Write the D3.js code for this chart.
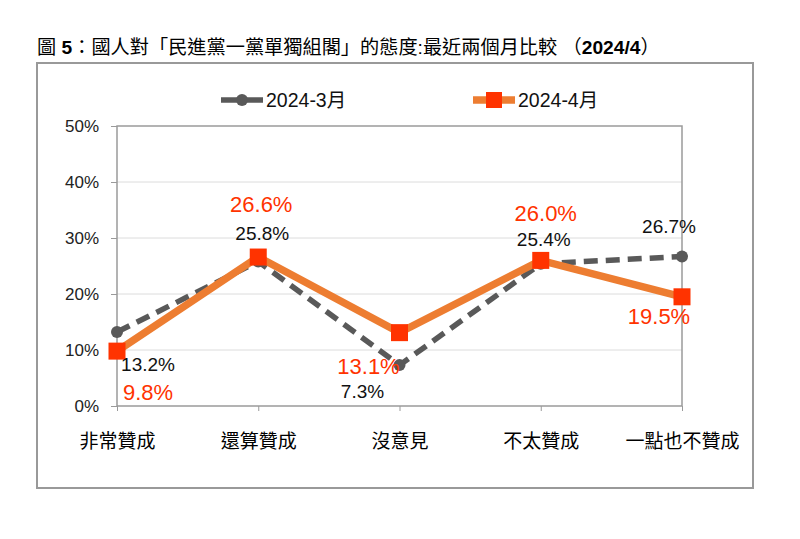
<!DOCTYPE html>
<html><head><meta charset="utf-8">
<script src="https://cdn.jsdelivr.net/npm/d3@7"></script>
<style>body{margin:0;background:#fff}svg{display:block}</style>
</head><body>
<svg id="c" width="800" height="539"></svg>
<script>
const categories = ["非常贊成","還算贊成","沒意見","不太贊成","一點也不贊成"];
const seriesNames = ["2024-3月","2024-4月"];
const march = [13.2, 25.8, 7.3, 25.4, 26.7];
const april = [9.8, 26.6, 13.1, 26.0, 19.5];
const yTicks = [0,10,20,30,40,50];
// label offsets (layout only)
const marchLabelOffsets = [[31,32],[4,-28],[-37,26],[3,-24],[-13,-30]];
const aprilLabelOffsets = [[31,41],[3,-53],[-31,34],[5,-47],[-23,19]];

const FONT = "'Liberation Sans','Noto Sans CJK TC',sans-serif";
const svg = d3.select("#c");
svg.append("rect").attr("width",800).attr("height",539).attr("fill","#fff");

// title
const title = svg.append("text").attr("x",37).attr("y",54)
  .attr("font-family",FONT).attr("font-size",19.2).attr("fill","#000");
title.append("tspan").text("圖 ");
title.append("tspan").attr("font-weight","bold").text("5");
title.append("tspan").text("：國人對「民進黨一黨單獨組閣」的態度:最近兩個月比較 （");
title.append("tspan").attr("font-weight","bold").text("2024/4");
title.append("tspan").text("）");

// outer box
svg.append("rect").attr("x",37).attr("y",63).attr("width",716).attr("height",425)
  .attr("fill","none").attr("stroke","#999").attr("stroke-width",2);

const x = d3.scalePoint().domain(categories).range([117,682]).padding(0);
const y = d3.scaleLinear().domain([0,50]).range([406,126]);

// gridlines
svg.append("g").selectAll("line").data(yTicks.filter(t=>t>0&&t<50)).join("line")
  .attr("x1",117).attr("x2",682).attr("y1",d=>y(d)).attr("y2",d=>y(d))
  .attr("stroke","#dcdcdc").attr("stroke-width",1);

// plot border
svg.append("rect").attr("x",117).attr("y",126).attr("width",565).attr("height",280)
  .attr("fill","none").attr("stroke","#9a9a9a").attr("stroke-width",1.5);

// y axis
const yAxis = d3.axisLeft(y).tickValues(yTicks).tickFormat(d=>d+"%").tickSize(6).tickPadding(12);
const gy = svg.append("g").attr("transform","translate(117,0)").call(yAxis);
gy.select(".domain").remove();
gy.selectAll(".tick line").attr("stroke","#9a9a9a");
gy.selectAll("text").attr("font-family",FONT).attr("font-size",17).attr("fill","#222");

// x axis
const xAxis = d3.axisBottom(x).tickSize(5).tickPadding(24);
const gx = svg.append("g").attr("transform","translate(0,406)").call(xAxis);
gx.select(".domain").remove();
gx.selectAll(".tick line").attr("stroke","#9a9a9a");
gx.selectAll("text").attr("font-family",FONT).attr("font-size",19).attr("fill","#000");

const line = d3.line().x((d,i)=>x(categories[i])).y(d=>y(d));

// march series
svg.append("path").datum(march).attr("d",line).attr("fill","none")
  .attr("stroke","#595959").attr("stroke-width",5.5).attr("stroke-dasharray","14,8");
svg.append("g").selectAll("circle").data(march).join("circle")
  .attr("cx",(d,i)=>x(categories[i])).attr("cy",d=>y(d)).attr("r",6).attr("fill","#595959");

// april series
svg.append("path").datum(april).attr("d",line).attr("fill","none")
  .attr("stroke","#ED7D31").attr("stroke-width",7.5);
svg.append("g").selectAll("rect").data(april).join("rect")
  .attr("x",(d,i)=>x(categories[i])-8.5).attr("y",d=>y(d)-8.5)
  .attr("width",17).attr("height",17).attr("fill","#FF3300");

// labels
svg.append("g").selectAll("text").data(march).join("text")
  .attr("x",(d,i)=>x(categories[i])+marchLabelOffsets[i][0])
  .attr("y",(d,i)=>y(d)+marchLabelOffsets[i][1])
  .attr("dy","0.35em").attr("text-anchor","middle")
  .attr("font-family",FONT).attr("font-size",19).attr("fill","#111")
  .text(d=>d.toFixed(1)+"%");
svg.append("g").selectAll("text").data(april).join("text")
  .attr("x",(d,i)=>x(categories[i])+aprilLabelOffsets[i][0])
  .attr("y",(d,i)=>y(d)+aprilLabelOffsets[i][1])
  .attr("dy","0.35em").attr("text-anchor","middle")
  .attr("font-family",FONT).attr("font-size",22).attr("fill","#FF3300")
  .text(d=>d.toFixed(1)+"%");

// legend
const lg = svg.append("g");
const legendX = [221, 473];
lg.append("line").attr("x1",legendX[0]).attr("x2",legendX[0]+42).attr("y1",100).attr("y2",100)
  .attr("stroke","#595959").attr("stroke-width",5.5);
lg.append("circle").attr("cx",legendX[0]+21).attr("cy",100).attr("r",6).attr("fill","#595959");
lg.append("line").attr("x1",legendX[1]).attr("x2",legendX[1]+42).attr("y1",100).attr("y2",100)
  .attr("stroke","#ED7D31").attr("stroke-width",7.5);
lg.append("rect").attr("x",legendX[1]+21-8).attr("y",92).attr("width",16).attr("height",16).attr("fill","#FF3300");
lg.selectAll("text.l").data(seriesNames).join("text")
  .attr("x",(d,i)=>legendX[i]+45).attr("y",100).attr("dy","0.35em")
  .attr("font-family",FONT).attr("font-size",19.5).attr("fill","#111").text(d=>d);
</script>
</body></html>
